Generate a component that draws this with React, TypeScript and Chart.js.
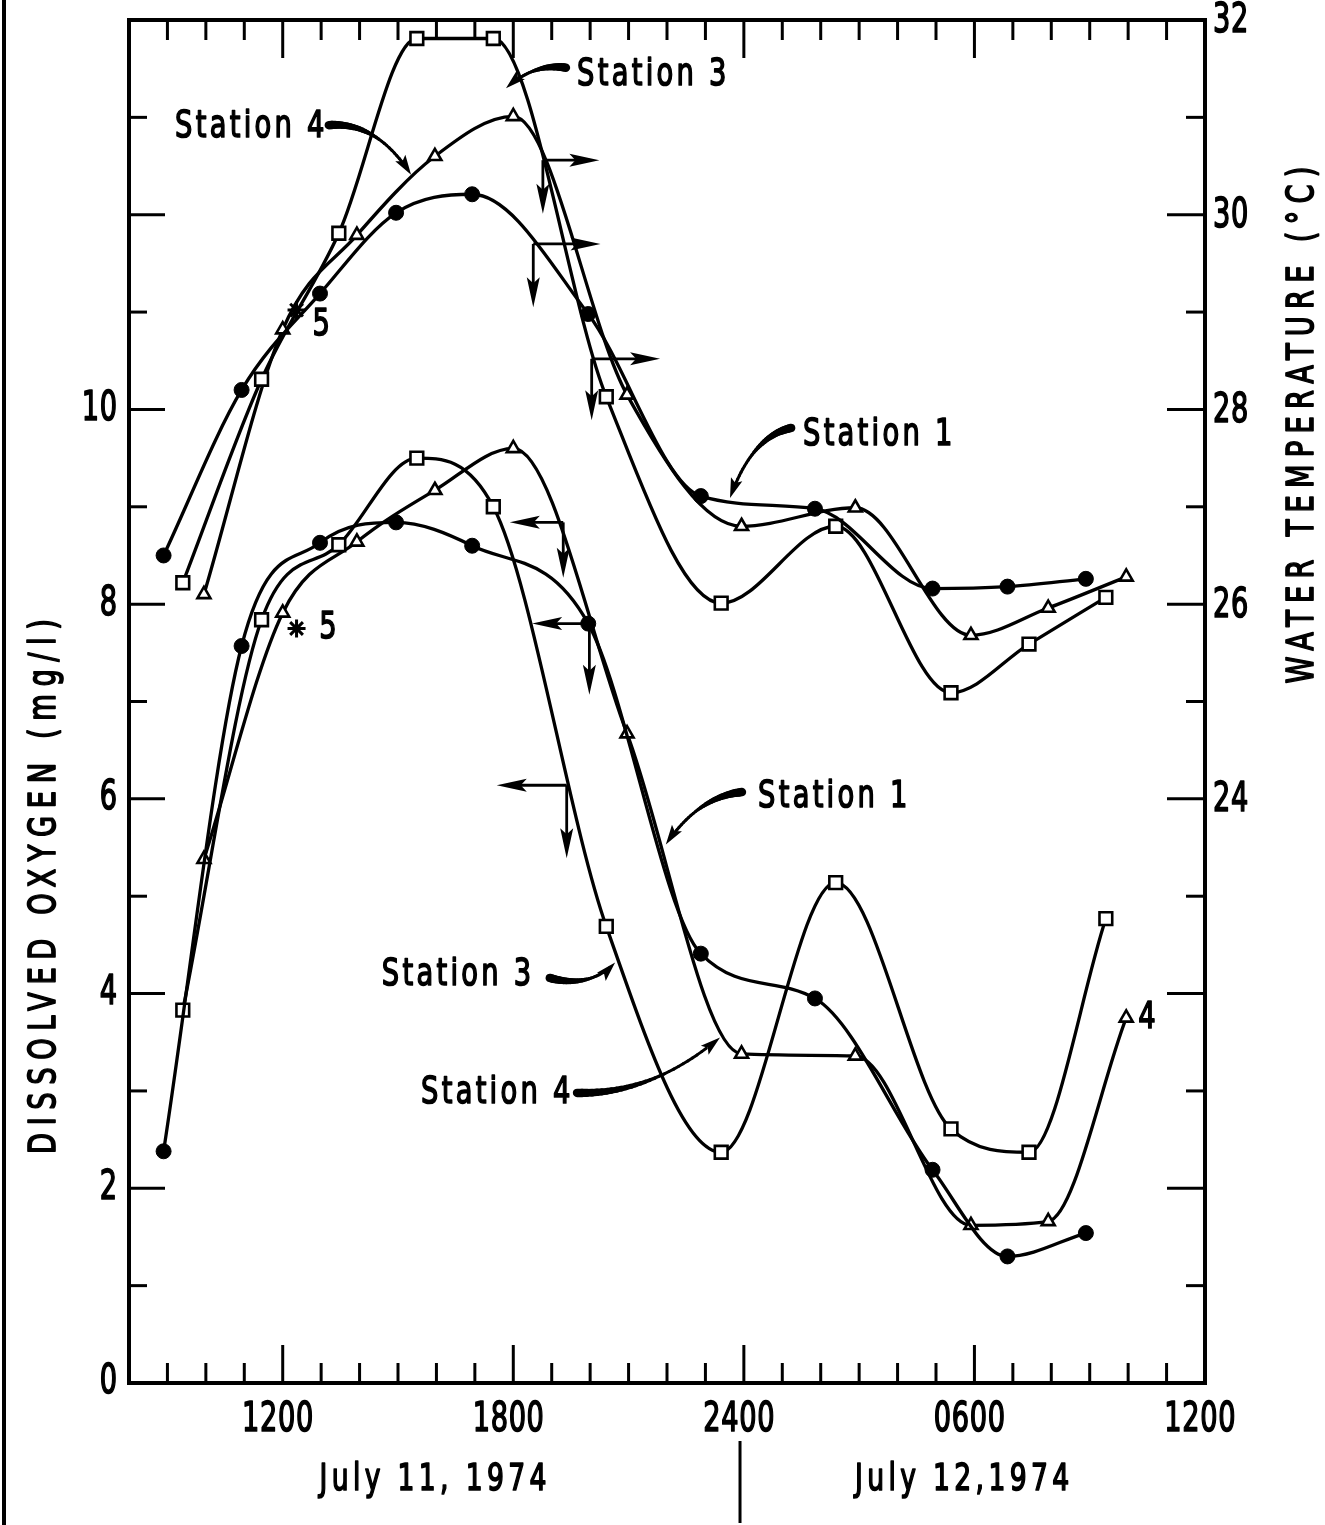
import React, { useEffect, useRef } from 'react';
import { Chart, registerables } from 'chart.js';

Chart.register(...registerables);

// ---------- axes ----------
const X_MIN = 8; // 0800 July 11 (hours from midnight July 11)
const X_MAX = 36; // 1200 July 12
const DO_MIN = 0;
const DO_MAX = 14;
const T_MIN = 18;
const T_MAX = 32;

const xTickHours = [12, 18, 24, 30, 36];
const xTickLabels = ['1200', '1800', '2400', '0600', '1200'];
const doTickValues = [0, 2, 4, 6, 8, 10];
const tempTickValues = [24, 26, 28, 30, 32];

// ---------- data (hours since 0000 July 11) ----------
const station1Hours = [8.9, 10.93, 12.97, 14.95, 16.93, 19.95, 22.88, 25.85, 28.91, 30.86, 32.9];
const station3Hours = [9.4, 11.45, 13.46, 15.49, 17.48, 20.42, 23.41, 26.39, 29.39, 31.42, 33.42];
const station4Hours = [9.95, 12.0, 13.93, 15.96, 18.0, 20.96, 23.94, 26.9, 29.91, 31.92, 33.95];

const station1Temp = [26.5, 28.2, 29.19, 30.02, 30.21, 28.98, 27.11, 26.98, 26.16, 26.18, 26.26];
const station3Temp = [26.22, 28.31, 29.81, 31.81, 31.81, 28.13, 26.01, 26.8, 25.09, 25.59, 26.07];
const station4Temp = [26.1, 28.82, 29.79, 30.6, 31.01, 28.15, 26.8, 26.99, 25.68, 25.96, 26.28];

const station1DO = [2.38, 7.57, 8.63, 8.84, 8.6, 7.8, 4.41, 3.95, 2.19, 1.3, 1.54];
const station3DO = [3.83, 7.84, 8.61, 9.5, 9.0, 4.69, 2.37, 5.14, 2.61, 2.37, 4.77];
const station4DO = [5.38, 7.91, 8.64, 9.17, 9.6, 6.67, 3.38, 3.36, 1.62, 1.66, 3.75];

const station5Hours = [12.36];
const station5Temp = [29.02];
const station5DO = [7.75];

// ---------- annotations (data units: hours, DO-axis units) ----------
const axisArrows = [
  { h: 18.77, v: 12.56, tipH: 20.24, downV: 12.01 },
  { h: 18.52, v: 11.7, tipH: 20.27, downV: 11.05 },
  { h: 20.04, v: 10.52, tipH: 21.82, downV: 9.89 },
  { h: 19.3, v: 8.84, tipH: 17.91, downV: 8.27 },
  { h: 19.98, v: 7.8, tipH: 18.49, downV: 7.07 },
  { h: 19.39, v: 6.14, tipH: 17.57, downV: 5.39 },
];

const stationLabels = [
  { text: 'Station 3', h: 19.66, v: 13.43, start: [19.37, 13.51], ctrl: [18.55, 13.56], tip: [17.81, 13.3] },
  { text: 'Station 4', h: 9.2, v: 12.9, start: [13.2, 12.92], ctrl: [14.45, 12.96], tip: [15.34, 12.41] },
  { text: 'Station 1', h: 25.54, v: 9.74, start: [25.23, 9.81], ctrl: [24.2, 9.72], tip: [23.64, 9.09] },
  { text: 'Station 1', h: 24.37, v: 6.02, start: [23.95, 6.07], ctrl: [22.8, 6.02], tip: [21.97, 5.53] },
  { text: 'Station 3', h: 14.58, v: 4.19, start: [18.95, 4.16], ctrl: [20.0, 4.05], tip: [20.65, 4.32] },
  { text: 'Station 4', h: 15.6, v: 2.98, start: [19.66, 2.98], ctrl: [21.6, 2.96], tip: [23.38, 3.55] },
];

const smallLabels = [
  { text: '5', h: 13.0, v: 10.87 },
  { text: '5', h: 13.18, v: 7.75 },
  { text: '4', h: 34.49, v: 3.75 },
];

const dateLabels = [
  { text: 'July 11, 1974', h: 15.91 },
  { text: 'July 12,1974', h: 29.68 },
];
const dateDividerHour = 23.9;

const FONT = '"DejaVu Sans", "Liberation Sans", sans-serif';

function drawText(
  ctx: CanvasRenderingContext2D,
  s: string,
  x: number,
  y: number,
  size: number,
  align: CanvasTextAlign = 'center',
  scaleX = 0.72,
  spacing = 0,
  rot = 0
) {
  ctx.save();
  ctx.translate(x, y);
  if (rot) ctx.rotate(rot);
  ctx.scale(scaleX, 1);
  ctx.font = `${size}px ${FONT}`;
  try {
    (ctx as any).letterSpacing = `${spacing}px`;
  } catch (e) {}
  ctx.textAlign = align;
  ctx.textBaseline = 'middle';
  let dx = 0;
  if (align === 'center') dx = spacing / 2;
  else if (align === 'right') dx = spacing;
  ctx.fillStyle = '#000';
  ctx.strokeStyle = '#000';
  ctx.lineWidth = 1.7;
  ctx.lineJoin = 'round';
  ctx.fillText(s, dx, 0);
  ctx.strokeText(s, dx, 0);
  ctx.restore();
}

function seg(ctx: CanvasRenderingContext2D, x0: number, y0: number, x1: number, y1: number) {
  ctx.beginPath();
  ctx.moveTo(x0, y0);
  ctx.lineTo(x1, y1);
  ctx.stroke();
}

function arrowHead(ctx: CanvasRenderingContext2D, tx: number, ty: number, dx: number, dy: number, L: number, W: number) {
  const n = Math.hypot(dx, dy) || 1;
  const ux = dx / n;
  const uy = dy / n;
  const bx = tx - ux * L;
  const by = ty - uy * L;
  ctx.beginPath();
  ctx.moveTo(tx, ty);
  ctx.lineTo(bx - uy * W, by + ux * W);
  ctx.lineTo(tx - ux * L * 0.8, ty - uy * L * 0.8);
  ctx.lineTo(bx + uy * W, by - ux * W);
  ctx.closePath();
  ctx.fill();
}

const decorPlugin = {
  id: 'decor',
  beforeDraw(chart: any) {
    const ctx = chart.ctx as CanvasRenderingContext2D;
    ctx.save();
    ctx.fillStyle = '#fff';
    ctx.fillRect(0, 0, chart.width, chart.height);
    ctx.restore();
  },
  afterDatasetsDraw(chart: any) {
    const ctx = chart.ctx as CanvasRenderingContext2D;
    const xs = chart.scales.x;
    const yl = chart.scales.yDO;
    const yr = chart.scales.yT;
    const { left, right, top, bottom } = chart.chartArea;
    const X = (h: number) => xs.getPixelForValue(h);
    const Y = (v: number) => yl.getPixelForValue(v);

    ctx.save();
    ctx.strokeStyle = '#000';
    ctx.fillStyle = '#000';
    ctx.lineCap = 'butt';

    // scanned page edge line
    ctx.lineWidth = 4;
    seg(ctx, 4, 0, 4, chart.height);

    // frame
    ctx.lineWidth = 4;
    ctx.strokeRect(left, top, right - left, bottom - top);

    // x ticks (top and bottom, inward)
    ctx.lineWidth = 3;
    for (let h = X_MIN + 1; h < X_MAX; h++) {
      const px = X(h);
      const len = h % 6 === 0 ? 38 : 20;
      seg(ctx, px, top, px, top + len);
      seg(ctx, px, bottom, px, bottom - len);
    }
    // left ticks
    for (let v = DO_MIN + 1; v < DO_MAX; v++) {
      const py = Y(v);
      const len = v % 2 === 0 ? 36 : 18;
      seg(ctx, left, py, left + len, py);
    }
    // right ticks
    for (let t = T_MIN + 1; t < T_MAX; t++) {
      const py = yr.getPixelForValue(t);
      const len = t % 2 === 0 ? 38 : 19;
      seg(ctx, right, py, right - len, py);
    }

    // tick labels
    xTickHours.forEach((h, i) => drawText(ctx, xTickLabels[i], X(h) - 5, bottom + 38, 40, 'center', 0.68, 1));
    doTickValues.forEach((v) => drawText(ctx, String(v), left - 12, Y(v), 40, 'right', 0.68, 1));
    tempTickValues.forEach((t) =>
      drawText(ctx, String(t), right + 8, yr.getPixelForValue(t) + 2, 40, 'left', 0.68, 1)
    );

    // date labels and divider
    dateLabels.forEach((d) => drawText(ctx, d.text, X(d.h), bottom + 97, 37, 'center', 0.72, 6));
    ctx.lineWidth = 3;
    seg(ctx, X(dateDividerHour), bottom + 58, X(dateDividerHour), bottom + 140);

    // axis titles
    drawText(ctx, 'DISSOLVED OXYGEN (mg/l)', 45, Y(5.1), 38, 'center', 0.72, 10.5, -Math.PI / 2);
    drawText(ctx, 'WATER TEMPERATURE (°C)', right + 98, Y(9.84), 38, 'center', 0.72, 10, -Math.PI / 2);

    // axis indicator arrows
    ctx.lineWidth = 2.8;
    axisArrows.forEach((a) => {
      const x0 = X(a.h);
      const y0 = Y(a.v);
      const xt = X(a.tipH);
      const yt = Y(a.downV);
      seg(ctx, x0, y0, xt - Math.sign(xt - x0) * 10, y0);
      arrowHead(ctx, xt, y0, xt - x0, 0, 30, 6.5);
      seg(ctx, x0, y0, x0, yt - 10);
      arrowHead(ctx, x0, yt, 0, yt - y0, 30, 6.5);
    });

    // station labels with curved leaders
    stationLabels.forEach((s) => {
      drawText(ctx, s.text, X(s.h), Y(s.v), 38, 'left', 0.72, 4.5);
      const p0 = { x: X(s.start[0]), y: Y(s.start[1]) };
      const c = { x: X(s.ctrl[0]), y: Y(s.ctrl[1]) };
      const p1 = { x: X(s.tip[0]), y: Y(s.tip[1]) };
      const pt = (t: number) => ({
        x: (1 - t) * (1 - t) * p0.x + 2 * (1 - t) * t * c.x + t * t * p1.x,
        y: (1 - t) * (1 - t) * p0.y + 2 * (1 - t) * t * c.y + t * t * p1.y,
      });
      const N = 30;
      ctx.strokeStyle = '#000';
      ctx.lineCap = 'round';
      for (let i = 0; i < N; i++) {
        const t0 = i / N;
        const t1 = (i + 1) / N;
        if (t1 > 0.9) break;
        const a = pt(t0);
        const b = pt(t1);
        ctx.lineWidth = Math.max(3, 8.5 - 10 * t0);
        seg(ctx, a.x, a.y, b.x, b.y);
      }
      ctx.lineCap = 'butt';
      arrowHead(ctx, p1.x, p1.y, p1.x - c.x, p1.y - c.y, 20, 6);
    });

    // small labels
    smallLabels.forEach((s) => drawText(ctx, s.text, X(s.h), Y(s.v), 38, 'center', 0.72, 0));

    ctx.restore();
  },
};

function pts(hours: number[], vals: number[]) {
  return hours.map((h, i) => ({ x: h, y: vals[i] }));
}

export default function App() {
  const ref = useRef<HTMLCanvasElement | null>(null);

  useEffect(() => {
    document.body.style.margin = '0';
    const canvas = ref.current;
    if (!canvas) return;

    const circle = {
      pointStyle: 'circle',
      pointRadius: 7.5,
      pointBackgroundColor: '#000',
      pointBorderColor: '#000',
      pointBorderWidth: 1,
    };
    const square = {
      pointStyle: 'rect',
      pointRadius: 9,
      pointBackgroundColor: '#fff',
      pointBorderColor: '#000',
      pointBorderWidth: 2.6,
    };
    const tri = {
      pointStyle: 'triangle',
      pointRadius: 7.5,
      pointBackgroundColor: '#fff',
      pointBorderColor: '#000',
      pointBorderWidth: 2.6,
    };
    const line = {
      borderColor: '#000',
      borderWidth: 3.3,
      cubicInterpolationMode: 'monotone',
      fill: false,
    };

    const chart = new Chart(canvas, {
      type: 'line',
      data: {
        datasets: [
          { label: 'Station 1 temperature', data: pts(station1Hours, station1Temp), yAxisID: 'yT', ...line, ...circle },
          { label: 'Station 3 temperature', data: pts(station3Hours, station3Temp), yAxisID: 'yT', ...line, ...square },
          { label: 'Station 4 temperature', data: pts(station4Hours, station4Temp), yAxisID: 'yT', ...line, ...tri },
          { label: 'Station 1 DO', data: pts(station1Hours, station1DO), yAxisID: 'yDO', ...line, ...circle },
          { label: 'Station 3 DO', data: pts(station3Hours, station3DO), yAxisID: 'yDO', ...line, ...square },
          { label: 'Station 4 DO', data: pts(station4Hours, station4DO), yAxisID: 'yDO', ...line, ...tri },
          {
            label: 'Station 5 temperature',
            data: pts(station5Hours, station5Temp),
            yAxisID: 'yT',
            showLine: false,
            pointStyle: 'star',
            pointRadius: 9,
            pointBorderColor: '#000',
            pointBorderWidth: 3,
          },
          {
            label: 'Station 5 DO',
            data: pts(station5Hours, station5DO),
            yAxisID: 'yDO',
            showLine: false,
            pointStyle: 'star',
            pointRadius: 9,
            pointBorderColor: '#000',
            pointBorderWidth: 3,
          },
        ] as any,
      },
      options: {
        animation: false,
        responsive: false,
        maintainAspectRatio: false,
        devicePixelRatio: 1,
        layout: { padding: { left: 129, top: 20, right: 120, bottom: 142 } },
        plugins: { legend: { display: false }, tooltip: { enabled: false } },
        scales: {
          x: { type: 'linear', min: X_MIN, max: X_MAX, display: false },
          yDO: { type: 'linear', position: 'left', min: DO_MIN, max: DO_MAX, display: false },
          yT: { type: 'linear', position: 'right', min: T_MIN, max: T_MAX, display: false },
        },
      } as any,
      plugins: [decorPlugin as any],
    });

    return () => chart.destroy();
  }, []);

  return (
    <div style={{ position: 'absolute', left: 0, top: 0, width: 1325, height: 1525, background: '#fff' }}>
      <canvas ref={ref} width={1325} height={1525} style={{ display: 'block', width: 1325, height: 1525 }} />
    </div>
  );
}
